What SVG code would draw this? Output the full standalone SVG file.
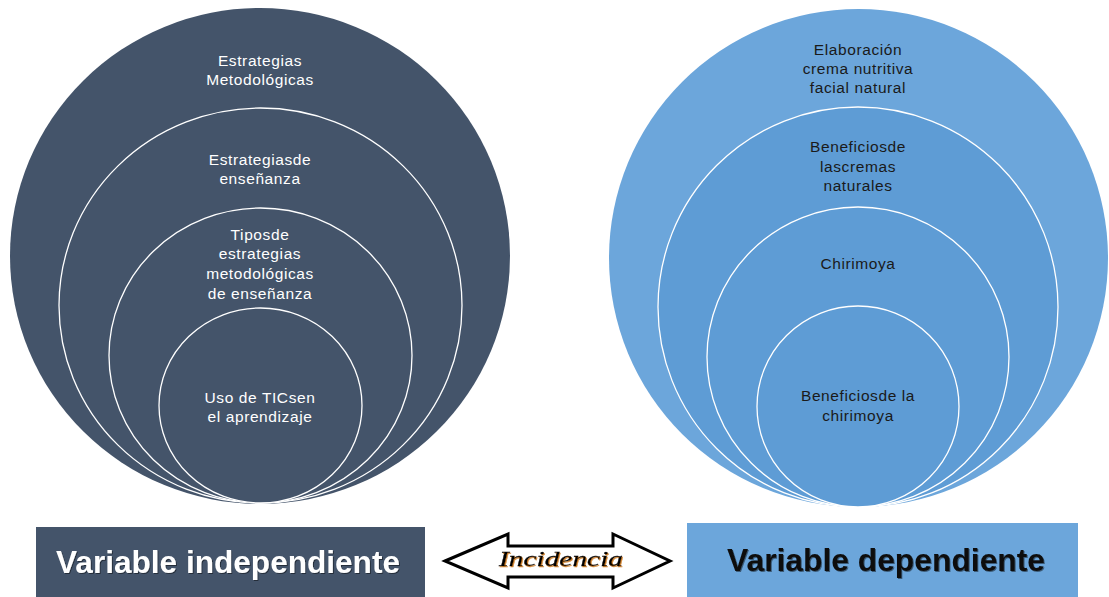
<svg xmlns="http://www.w3.org/2000/svg" width="1109" height="597" viewBox="0 0 1109 597">
  <defs>
    <filter id="sh" x="-10%" y="-20%" width="120%" height="140%">
      <feDropShadow dx="1" dy="1" stdDeviation="0.5" flood-color="#000" flood-opacity="0.45"/>
    </filter>
    <filter id="shO" x="-10%" y="-20%" width="120%" height="140%">
      <feDropShadow dx="1" dy="1" stdDeviation="0.4" flood-color="#d07a1a" flood-opacity="0.9"/>
    </filter>
  </defs>
  <style>
    .ring { stroke: #ffffff; stroke-width: 1.3; }
    .dark { fill: #44546A; }
    .lightOuter { fill: #6CA6DB; }
    .lightInner { fill: #5E9CD5; }
    .lt { font-family: "Liberation Sans", Arial, sans-serif; font-size: 15.5px; letter-spacing: 0.6px; text-anchor: middle; fill: #ffffff; }
    .rt { font-family: "Liberation Sans", Arial, sans-serif; font-size: 15.5px; letter-spacing: 0.6px; text-anchor: middle; fill: #1a1a1a; }
    .big { font-family: "Liberation Sans", Arial, sans-serif; font-size: 31px; font-weight: bold; }
  </style>
  <rect width="1109" height="597" fill="#ffffff"/>

  <g id="left-nested">
    <g id="l1"><ellipse class="dark" cx="260" cy="256" rx="250" ry="248"/>
      <text class="lt" x="260" y="66">Estrategias</text>
      <text class="lt" x="260" y="85">Metodológicas</text></g>
    <g id="l2"><ellipse class="dark ring" cx="260.5" cy="305.5" rx="201.5" ry="197.5"/>
      <text class="lt" x="260" y="165">Estrategiasde</text>
      <text class="lt" x="260" y="184">enseñanza</text></g>
    <g id="l3"><ellipse class="dark ring" cx="260.5" cy="355.5" rx="151.5" ry="147.5"/>
      <text class="lt" x="260" y="240">Tiposde</text>
      <text class="lt" x="260" y="259">estrategias</text>
      <text class="lt" x="260" y="279">metodológicas</text>
      <text class="lt" x="260" y="299">de enseñanza</text></g>
    <g id="l4"><ellipse class="dark ring" cx="260.5" cy="405.5" rx="101.5" ry="97.5"/>
      <text class="lt" x="260" y="403">Uso de TICsen</text>
      <text class="lt" x="260" y="422">el aprendizaje</text></g>
  </g>

  <g id="right-nested">
    <g id="r1"><ellipse class="lightOuter" cx="858.5" cy="258" rx="249.5" ry="249"/>
      <text class="rt" x="858" y="55">Elaboración</text>
      <text class="rt" x="858" y="74">crema nutritiva</text>
      <text class="rt" x="858" y="93">facial natural</text></g>
    <g id="r2"><ellipse class="lightInner ring" cx="858" cy="307" rx="200" ry="200"/>
      <text class="rt" x="858" y="152">Beneficiosde</text>
      <text class="rt" x="858" y="172">lascremas</text>
      <text class="rt" x="858" y="191">naturales</text></g>
    <g id="r3"><ellipse class="lightInner ring" cx="858" cy="357" rx="151" ry="150"/>
      <text class="rt" x="858" y="269">Chirimoya</text></g>
    <g id="r4"><ellipse class="lightInner ring" cx="858" cy="406.5" rx="101" ry="100.5"/>
      <text class="rt" x="858" y="401">Beneficiosde la</text>
      <text class="rt" x="858" y="421">chirimoya</text></g>
  </g>

  <g id="box-independiente">
    <rect x="36" y="527" width="389" height="72" fill="#44546A"/>
    <text class="big" x="56" y="573" fill="#ffffff" filter="url(#sh)" textLength="344" lengthAdjust="spacingAndGlyphs">Variable independiente</text>
  </g>

  <g id="box-dependiente">
    <rect x="687" y="523" width="391" height="76" fill="#6CA6DB"/>
    <text class="big" x="727" y="571" fill="#0d0d0d" filter="url(#sh)" textLength="318" lengthAdjust="spacingAndGlyphs">Variable dependiente</text>
  </g>

  <g id="connectors">
    <path d="M445,561 L508,534 L508,546 L613,546 L613,534 L670,561 L613,588 L613,577 L508,577 L508,588 Z" fill="#ffffff" stroke="#000000" stroke-width="3" stroke-linejoin="miter"/>
    <text x="561" y="566" text-anchor="middle" font-family="'Liberation Serif', 'Times New Roman', serif" font-style="italic" font-size="20px" fill="#000000" stroke="#000000" stroke-width="0.3" filter="url(#shO)" textLength="124" lengthAdjust="spacingAndGlyphs">Incidencia</text>
  </g>
</svg>
